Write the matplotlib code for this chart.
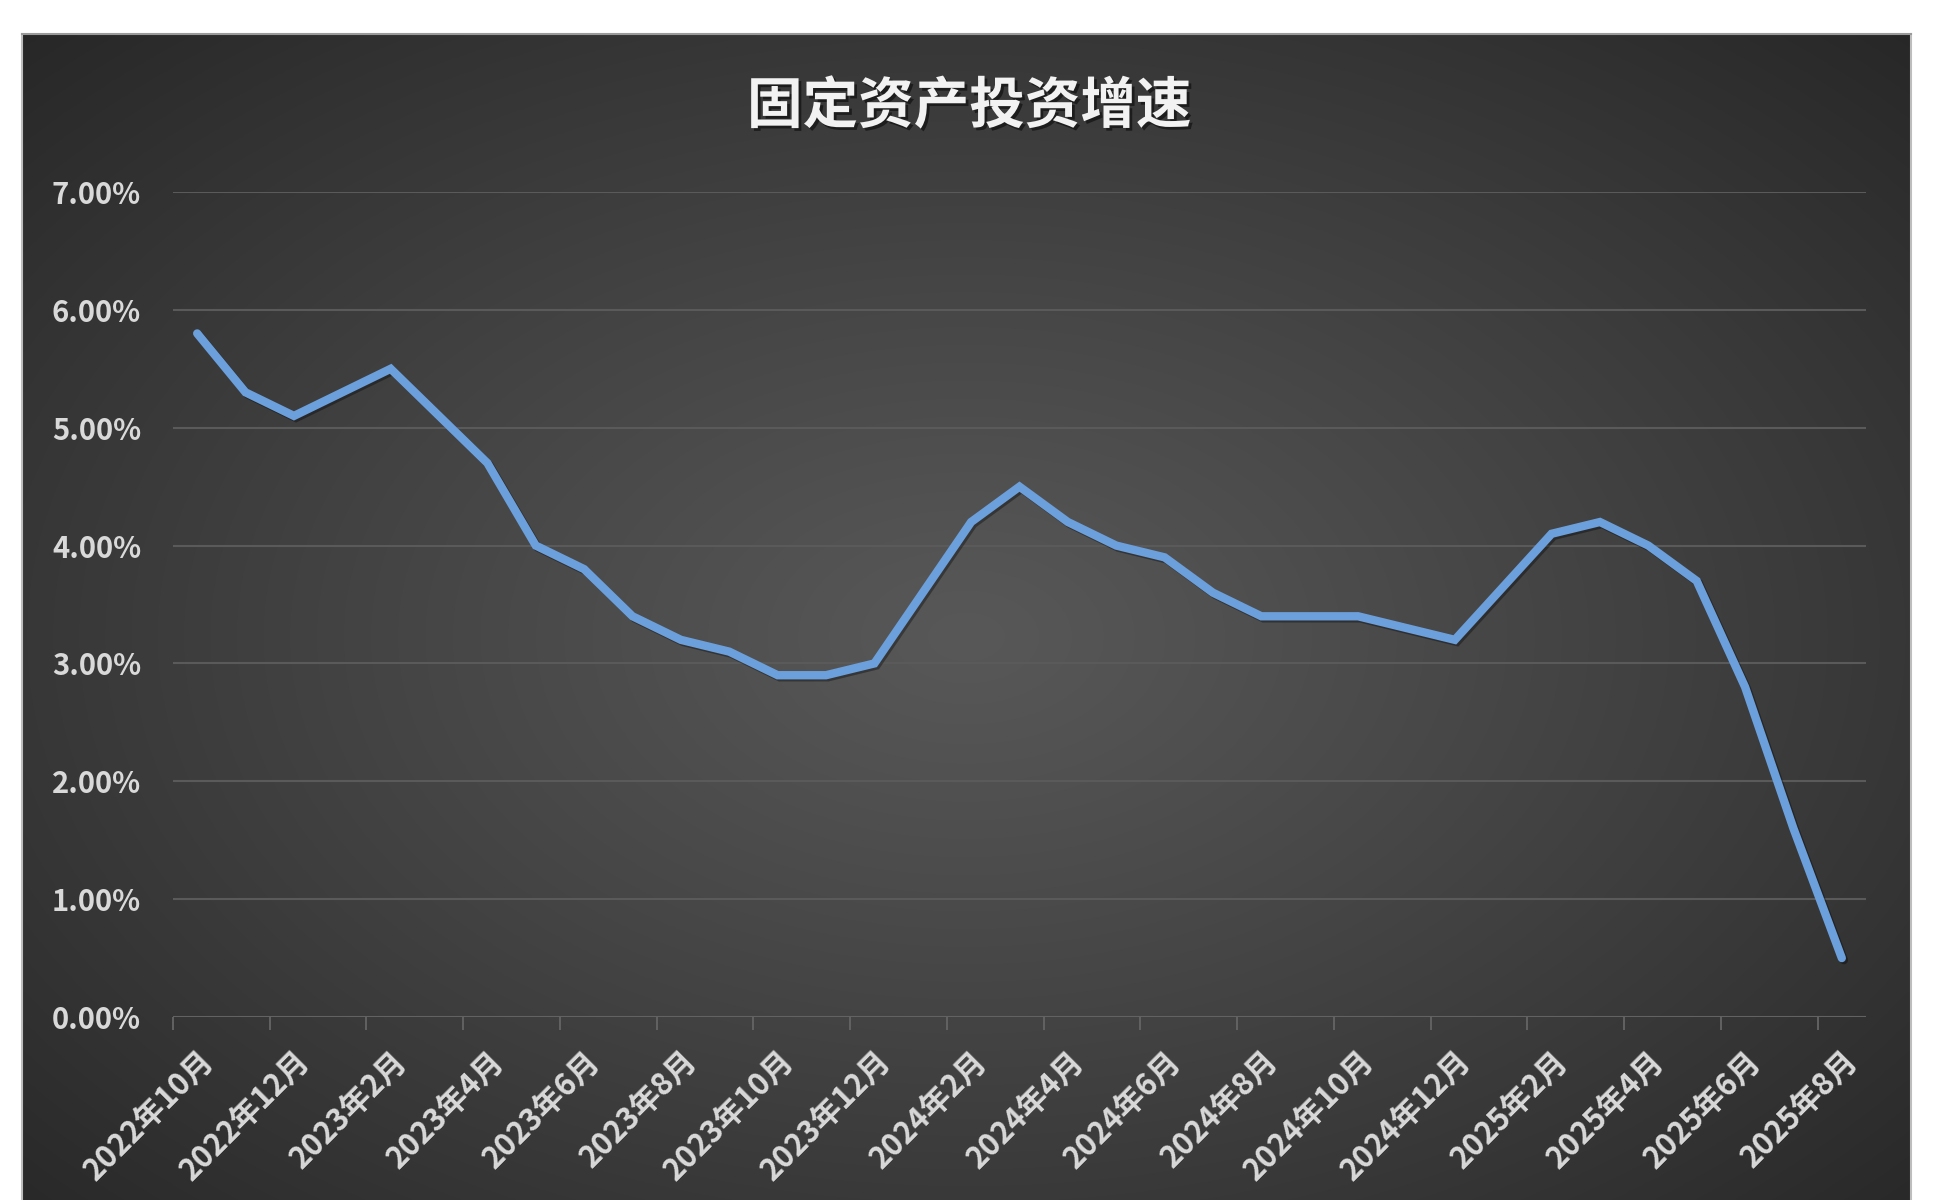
import numpy as np
import matplotlib
matplotlib.use("Agg")
import matplotlib.pyplot as plt
import matplotlib.patheffects as pe

plt.rcParams['font.family'] = ['Noto Sans CJK SC', 'DejaVu Sans']

# monthly series, Oct 2022 .. Aug 2025 (January not published -> None)
months = ['2022年10月', '2022年11月', '2022年12月',
          '2023年1月', '2023年2月', '2023年3月', '2023年4月', '2023年5月', '2023年6月',
          '2023年7月', '2023年8月', '2023年9月', '2023年10月', '2023年11月', '2023年12月',
          '2024年1月', '2024年2月', '2024年3月', '2024年4月', '2024年5月', '2024年6月',
          '2024年7月', '2024年8月', '2024年9月', '2024年10月', '2024年11月', '2024年12月',
          '2025年1月', '2025年2月', '2025年3月', '2025年4月', '2025年5月', '2025年6月',
          '2025年7月', '2025年8月']
growth = [5.8, 5.3, 5.1,
          None, 5.5, 5.1, 4.7, 4.0, 3.8, 3.4, 3.2, 3.1, 2.9, 2.9, 3.0,
          None, 4.2, 4.5, 4.2, 4.0, 3.9, 3.6, 3.4, 3.4, 3.4, 3.3, 3.2,
          None, 4.1, 4.2, 4.0, 3.7, 2.8, 1.6, 0.5]
yticks = [0, 1, 2, 3, 4, 5, 6, 7]
title = '固定资产投资增速'

W, H = 1938, 1200
fig = plt.figure(figsize=(W / 100, H / 100), dpi=100, facecolor='white')

# dark panel with radial gradient
p_left, p_top, p_right, p_bottom = 22, 34, 1911, 1240
bg = fig.add_axes([p_left / W, 0, (p_right - p_left) / W, (H - p_top) / H])
bg.set_axis_off()
gx, gy = np.meshgrid(np.linspace(-1, 1, 400), np.linspace(-1, 1, 260))
r = np.sqrt(gx ** 2 + gy ** 2) / np.sqrt(2)
shade = 0.345 - 0.19 * r ** 1.1
img = np.dstack([shade, shade, shade])
bg.imshow(img, aspect='auto', extent=[0, 1, 0, 1], interpolation='bilinear')
bg.set_xlim(0, 1)
bg.set_ylim((p_bottom - H) / (p_bottom - p_top), 1)
fig.add_artist(plt.Line2D([p_left / W, p_left / W], [0, 1 - p_top / H],
                          color='#bdbdbd', lw=1.5))
fig.add_artist(plt.Line2D([p_right / W, p_right / W], [0, 1 - p_top / H],
                          color='#bdbdbd', lw=1.5))
fig.add_artist(plt.Line2D([p_left / W, p_right / W], [1 - p_top / H, 1 - p_top / H],
                          color='#9a9a9a', lw=1.5))

# plot area
a_left, a_right, a_top, a_bottom = 173, 1866, 192, 1017
ax = fig.add_axes([a_left / W, 1 - a_bottom / H, (a_right - a_left) / W, (a_bottom - a_top) / H])
ax.patch.set_alpha(0)

xs = [i for i, v in enumerate(growth) if v is not None]
ys = [v for v in growth if v is not None]
ax.plot(xs, ys, color='#6ca0dc', lw=6, solid_joinstyle='miter', solid_capstyle='round',
        path_effects=[pe.SimpleLineShadow(offset=(1.5, -1.5), shadow_color='black', alpha=0.35),
                      pe.Normal()], zorder=3)

ax.set_xlim(-0.5, len(months) - 0.5)
ax.set_ylim(0, 7)
ax.set_yticks(yticks)
ax.set_yticklabels([f'{v:.2f}%' for v in yticks])
for y in yticks[1:]:
    ax.axhline(y, color='#5a5a5a', lw=1.5, zorder=1)
ax.axhline(0, color='#626262', lw=1.5, zorder=2)

ax.set_xticks(range(0, len(months), 2))
ax.set_xticklabels(months[::2], rotation=45, ha='right', va='top', rotation_mode='anchor')
ax.set_xticks(np.arange(-0.5, len(months) - 1, 2), minor=True)
ax.tick_params(axis='x', which='major', length=0, pad=20, labelsize=22, labelcolor='#d9d9d9')
ax.tick_params(axis='x', which='minor', length=9, width=1.4, color='#626262')
ax.tick_params(axis='y', length=0, pad=23, labelsize=21, labelcolor='#d9d9d9')
for t in ax.get_xticklabels() + ax.get_yticklabels():
    t.set_fontweight('bold')
for s in ax.spines.values():
    s.set_visible(False)

fig.text(969 / W, 1 - 107 / H, title, ha='center', va='center', fontsize=40,
         fontweight='bold', color='#f2f2f2',
         path_effects=[pe.withSimplePatchShadow(offset=(2, -2), shadow_rgbFace='black', alpha=0.5)])

fig.savefig('out.png', dpi=100, facecolor='white')
